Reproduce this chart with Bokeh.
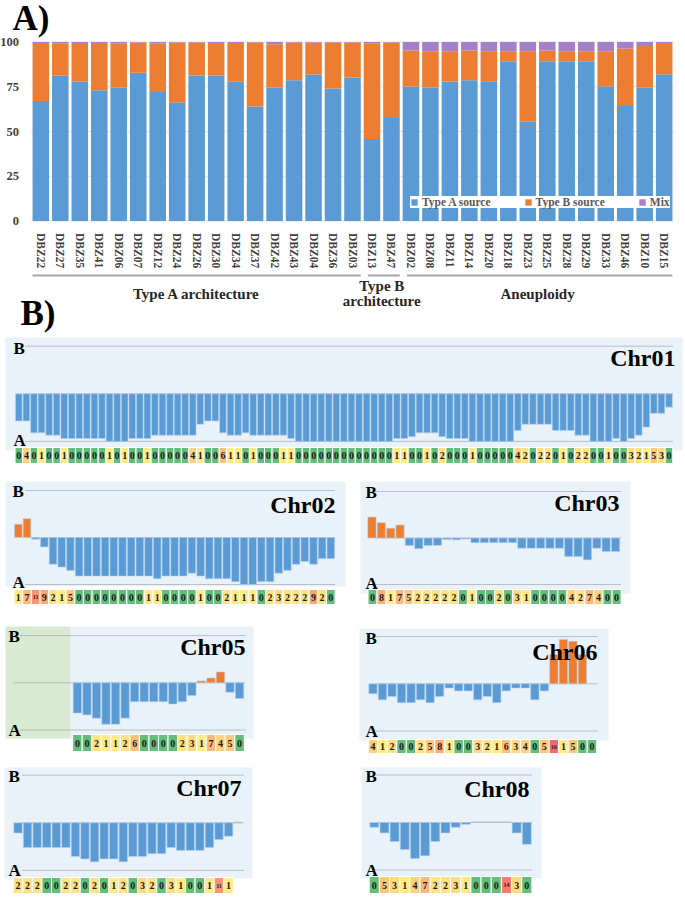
import math
from bokeh.plotting import figure
from bokeh.models import Range1d, FixedTicker, ColumnDataSource
from bokeh.layouts import column, row
from bokeh.embed import file_html
from bokeh.resources import INLINE
from bokeh.core.properties import value

SERIF = "Liberation Serif"
BLUE = "#5B9BD5"
ORANGE = "#ED7D31"
PURPLE = "#A67FCB"
BG = "#E9F1F9"
GREEN_BG = "#D9EAD3"

# ---------------- Panel A data ----------------
samples = ["DBZ22", "DBZ27", "DBZ35", "DBZ41", "DBZ06", "DBZ07", "DBZ12", "DBZ24", "DBZ26",
           "DBZ30", "DBZ34", "DBZ37", "DBZ42", "DBZ43", "DBZ04", "DBZ36", "DBZ03",
           "DBZ13", "DBZ47",
           "DBZ02", "DBZ08", "DBZ11", "DBZ14", "DBZ20", "DBZ18", "DBZ23", "DBZ25", "DBZ28",
           "DBZ29", "DBZ33", "DBZ46", "DBZ10", "DBZ15"]
group_names = ["Type A architecture", "Type B\narchitecture", "Aneuploidy"]
group_sizes = [17, 2, 14]
type_a_source = [67.0, 81.3, 78.0, 73.0, 74.5, 82.8, 72.0, 66.4, 81.3, 81.3, 77.8, 64.0, 74.6,
                 78.7, 81.9, 74.0, 80.2,
                 45.8, 57.6,
                 75.1, 74.6, 78.0, 78.7, 78.1, 89.2, 55.5, 89.2, 89.2, 89.2, 75.3, 64.3, 74.4, 82.0]
type_b_source = [32.5, 18.0, 21.5, 26.5, 24.5, 16.9, 27.0, 33.3, 18.4, 18.2, 21.7, 35.7, 24.2,
                 21.0, 17.8, 25.7, 19.5,
                 53.5, 42.1,
                 20.2, 20.2, 16.8, 16.6, 16.7, 5.6, 39.3, 6.1, 5.6, 5.6, 19.5, 32.0, 23.4, 17.4]
mix_source = [0.5, 0.7, 0.5, 0.5, 1.0, 0.3, 1.0, 0.3, 0.3, 0.5, 0.5, 0.3, 1.2,
              0.3, 0.3, 0.3, 0.3,
              0.7, 0.3,
              4.7, 5.2, 5.2, 4.7, 5.2, 5.2, 5.2, 4.7, 5.2, 5.2, 5.2, 3.7, 2.2, 0.6]
legend_labels = ["Type A source", "Type B source", "Mix"]
y_ticks = [0, 25, 50, 75, 100]

# ---------------- Panel B data ----------------
chr01_vals = [-0.57, -0.57, -0.82, -0.82, -0.87, -0.87, -0.94, -0.94, -0.94, -0.94, -0.94, -0.94,
              -1.0, -1.0, -1.0, -0.94, -0.94, -0.94, -0.87, -0.87, -0.87, -0.87, -0.87, -0.87,
              -0.64, -0.57, -0.57, -0.82, -0.87, -0.87, -0.82, -0.87, -0.87, -0.87, -0.87, -0.87,
              -0.94, -1.0, -1.0, -1.0, -1.0, -1.0, -1.0,
              -1.0, -1.0, -1.0, -1.0, -1.0, -1.0, -1.0, -0.94, -0.94, -0.90, -0.82, -0.82, -0.82,
              -0.90, -0.94, -0.94, -0.94, -1.0, -1.0, -1.0, -1.0, -1.0, -1.0, -0.77, -0.64, -0.64,
              -0.64, -0.64, -0.77, -0.77, -0.77, -0.87, -0.87, -1.0, -1.0, -1.0, -0.94, -1.0, -0.94,
              -0.87, -0.70, -0.41, -0.41, -0.28]
chr01_counts = [0, 4, 0, 1, 0, 0, 1, 0, 0, 0, 0, 0, 1, 0, 1, 0, 0, 1, 0, 0, 0, 0, 0, 4, 1, 0, 0,
                6, 1, 1, 0, 1, 0, 0, 0, 1, 1, 0, 0, 0, 0, 0, 0,
                0, 0, 0, 0, 0, 0, 0, 1, 1, 0, 0, 1, 0, 2, 0, 0, 0, 1, 0, 0, 0, 0, 0, 4, 2, 0, 2,
                2, 0, 1, 0, 2, 2, 0, 0, 1, 0, 0, 3, 2, 1, 5, 3, 0]
chr02_vals = [0.28, 0.40, -0.035, -0.20, -0.57, -0.63, -0.70, -0.82, -0.82, -0.82, -0.82, -0.82,
              -0.82, -0.82, -0.82, -0.82, -0.88, -0.82, -0.82, -0.82, -0.76, -0.82, -0.88, -0.88,
              -0.88, -0.94, -1.0, -1.0, -0.94, -0.94, -0.76, -0.70, -0.57, -0.51, -0.57, -0.45,
              -0.45]
chr02_counts = [1, 7, 11, 9, 2, 1, 5, 0, 0, 0, 0, 0, 0, 0, 0, 1, 1, 0, 0, 0, 0, 1, 0, 0, 2, 1,
                1, 1, 0, 2, 3, 2, 2, 2, 9, 2, 0]
chr03_vals = [0.45, 0.33, 0.21, 0.28, -0.16, -0.23, -0.16, -0.16, -0.03, -0.04, -0.02, -0.10,
              -0.10, -0.10, -0.10, -0.10, -0.22, -0.22, -0.22, -0.22, -0.22, -0.40, -0.40, -0.47,
              -0.22, -0.29, -0.29]
chr03_counts = [0, 8, 1, 7, 5, 2, 2, 2, 2, 2, 0, 1, 0, 0, 2, 0, 3, 1, 0, 0, 0, 0, 4, 2, 7, 4,
                0, 0]
chr05_vals = [-0.64, -0.68, -0.75, -0.88, -0.88, -0.75, -0.40, -0.40, -0.40, -0.40, -0.45, -0.40,
              -0.27, 0.04, 0.10, 0.23, -0.20, -0.33]
chr05_counts = [0, 0, 2, 1, 1, 2, 6, 0, 0, 0, 0, 2, 3, 1, 7, 4, 5, 0]
chr06_vals = [-0.21, -0.34, -0.27, -0.40, -0.40, -0.34, -0.40, -0.27, -0.09, -0.15, -0.15, -0.34,
              -0.27, -0.40, -0.15, -0.09, -0.09, -0.34, -0.15, 0.62, 0.94, 0.90, 0.62]
chr06_counts = [4, 1, 2, 0, 0, 2, 5, 8, 1, 0, 0, 3, 2, 1, 6, 3, 4, 0, 5, 16, 1, 5, 0, 0]
chr07_vals = [-0.215, -0.52, -0.52, -0.52, -0.52, -0.52, -0.71, -0.76, -0.82, -0.76, -0.76, -0.82,
              -0.71, -0.71, -0.65, -0.65, -0.52, -0.58, -0.58, -0.58, -0.52, -0.35, -0.28, 0.015]
chr07_counts = [2, 2, 2, 0, 0, 2, 2, 0, 2, 0, 1, 2, 0, 3, 2, 0, 3, 1, 0, 0, 1, 11, 1]
chr08_vals = [-0.10, -0.22, -0.40, -0.57, -0.76, -0.70, -0.40, -0.22, -0.10, -0.04, 0.015, 0.015,
              0.015, 0.015, -0.22, -0.46]
chr08_counts = [0, 5, 3, 1, 4, 7, 2, 2, 3, 1, 0, 0, 0, 14, 3, 0]

# ================= Panel A =================
A_W, A_H = 685, 336
A_PX = 1.79                       # pixels per percent
A_L, A_R = 30.6, 673.4            # band extent of the bars
A_PITCH = (A_R - A_L) / len(samples)


def ya(py):
    return 100 - (py - 41.5) / A_PX


def xa(px):
    return (px - A_L) / A_PITCH


pa = figure(width=A_W, height=A_H, output_backend="svg", toolbar_location=None,
            x_range=Range1d(xa(0), xa(A_W)), y_range=Range1d(ya(A_H), ya(0)),
            min_border=0, min_border_left=0, min_border_right=0, min_border_top=0,
            min_border_bottom=0, outline_line_color=None)
for g in pa.grid:
    g.visible = False

xs = [i + 0.5 for i in range(len(samples))]
n_s = len(samples)
pa.segment(x0=[0] * len(y_ticks), x1=[n_s] * len(y_ticks), y0=y_ticks, y1=y_ticks,
           line_color="#E3E3E3", line_width=1)

src_a = ColumnDataSource(dict(x=xs, a=type_a_source, b=type_b_source, m=mix_source))
pa.vbar_stack(["a", "b", "m"], x="x", width=0.85, color=[BLUE, ORANGE, PURPLE],
              line_color=None, source=src_a, legend_label=legend_labels)

pa.yaxis.fixed_location = 0
pa.yaxis.ticker = FixedTicker(ticks=y_ticks)
pa.yaxis.axis_line_color = None
pa.yaxis.major_tick_line_color = None
pa.yaxis.minor_tick_line_color = None
pa.yaxis.major_label_standoff = 6
pa.yaxis.major_label_text_font = SERIF
pa.yaxis.major_label_text_font_style = "bold"
pa.yaxis.major_label_text_font_size = "12.5px"
pa.yaxis.major_label_text_color = "#404040"

pa.xaxis.fixed_location = 0
pa.xaxis.ticker = FixedTicker(ticks=xs)
pa.xaxis.major_label_overrides = {x: s for x, s in zip(xs, samples)}
pa.xaxis.axis_line_color = None
pa.xaxis.major_tick_line_color = None
pa.xaxis.minor_tick_line_color = None
pa.xaxis.major_label_orientation = -math.pi / 2
pa.xaxis.major_label_standoff = 6
pa.xaxis.major_label_text_font = SERIF
pa.xaxis.major_label_text_font_style = "bold"
pa.xaxis.major_label_text_font_size = "11.5px"
pa.xaxis.major_label_text_color = "#404040"

# group underlines and labels
starts, s = [], 0
for n in group_sizes:
    starts.append(s)
    s += n
gx0 = [st + (0.075 if i == 0 else 0.3) for i, st in enumerate(starts)]
gx1 = [st + n - 0.075 for st, n in zip(starts, group_sizes)]
pa.segment(x0=gx0, x1=gx1, y0=[ya(275)] * 3, y1=[ya(275)] * 3, line_color="#A6A6A6",
           line_width=2)
tx, ty, tt = [], [], []
for st, n, name in zip(starts, group_sizes, group_names):
    parts = name.split("\n")
    c = st + n / 2
    if len(parts) == 1:
        tx.append(c); ty.append(ya(293)); tt.append(parts[0])
    else:
        tx += [c, c]; ty += [ya(285), ya(300)]; tt += parts
pa.text(x=tx, y=ty, text=tt, text_align="center", text_baseline="middle",
        text_font=value(SERIF), text_font_style="bold", text_font_size="15px",
        text_color="#262626")

pa.text(x=[xa(12), xa(20)], y=[ya(18), ya(313)], text=["A)", "B)"], text_align="left",
        text_baseline="middle", text_font=value(SERIF), text_font_style="bold",
        text_font_size="35px", text_color="black")

lg = pa.legend[0]
lg.orientation = "horizontal"
lg.location = (410, 128)
lg.label_text_font = SERIF
lg.label_text_font_style = "bold"
lg.label_text_font_size = "11.5px"
lg.label_text_color = "#595959"
lg.glyph_width = 8
lg.glyph_height = 8
lg.label_height = 10
lg.label_standoff = 4
lg.spacing = 33
lg.padding = 3
lg.margin = 0
lg.border_line_color = None
lg.background_fill_color = "white"
lg.background_fill_alpha = 1.0


# ================= Panel B =================
def cell_color(n):
    if n == 0:
        return "#63BE7B"
    t = min((n - 1) / 15.0, 1.0)
    c0, c1 = (255, 235, 132), (248, 105, 107)
    r, g, b = [round(a + (bb - a) * t) for a, bb in zip(c0, c1)]
    return "#%02X%02X%02X" % (r, g, b)


BW = 0.88


def chr_panel(name, vals, counts, fig, bar0, pitch, zero, unit, bgs, line_x, zero_x,
              letter_x, b_mid, a_mid, title_x, title_mid, cell_y, cell_x=None):
    fl, ft, fw, fh = fig
    d0 = bar0 - (1 - BW) / 2 * pitch

    def X(px):
        return (px - d0) / pitch

    def Y(py):
        return (zero - py) / unit

    p = figure(width=fw, height=fh, output_backend="svg", toolbar_location=None,
               x_range=Range1d(X(fl), X(fl + fw)), y_range=Range1d(Y(ft + fh), Y(ft)),
               x_axis_location=None, y_axis_location=None, min_border=0,
               min_border_left=0, min_border_right=0, min_border_top=0, min_border_bottom=0,
               outline_line_color=None, background_fill_color="white",
               border_fill_color="white")
    for g in p.grid:
        g.visible = False
    for (l, r, t, b, c) in bgs:
        p.quad(left=[X(max(l, fl))], right=[X(min(r, fl + fw))], top=[Y(t)], bottom=[Y(b)],
               fill_color=c, line_color=None)
    p.segment(x0=[X(line_x[0]), X(zero_x[0]), X(line_x[0])],
              x1=[X(line_x[1]), X(zero_x[1]), X(line_x[1])],
              y0=[1, 0, -1], y1=[1, 0, -1], line_color="#8C8C8C", line_dash="1 1",
              line_width=1)
    src = ColumnDataSource(dict(
        x=[i + 0.5 for i in range(len(vals))],
        top=[max(v, 0) for v in vals],
        bottom=[min(v, 0) for v in vals],
        color=[ORANGE if v > 0 else BLUE for v in vals]))
    p.vbar(x="x", top="top", bottom="bottom", width=BW, fill_color="color",
           line_color="#B5D1EC", line_width=0.6, source=src)
    # cells
    if cell_x is None:
        c0, cp = d0, pitch
    else:
        c0, cp = cell_x
    cw = cp / pitch
    ct, cb = cell_y
    cs = ColumnDataSource(dict(
        x=[X(c0) + (i + 0.5) * cw for i in range(len(counts))],
        y=[Y((ct + cb) / 2)] * len(counts),
        txt=[str(n) for n in counts],
        fc=[cell_color(n) for n in counts],
        fs=["10px" if n < 10 else "6px" for n in counts]))
    p.rect(x="x", y="y", width=cw, height=(cb - ct) / unit, fill_color="fc",
           line_color="white", line_width=1, source=cs)
    p.text(x="x", y="y", text="txt", text_font_size="fs", text_align="center",
           text_baseline="middle", text_font=value(SERIF), text_font_style="bold",
           text_color="#1A1A1A", source=cs)
    # letters and title
    p.text(x=[X(letter_x)] * 2, y=[Y(b_mid), Y(a_mid)], text=["B", "A"], text_align="left",
           text_baseline="middle", text_font=value(SERIF), text_font_style="bold",
           text_font_size="17px", text_color="black")
    p.text(x=[X(title_x)], y=[Y(title_mid)], text=[name], text_align="right",
           text_baseline="middle", text_font=value(SERIF), text_font_style="bold",
           text_font_size="24px", text_color="black")
    return p


c01 = chr_panel("Chr01", chr01_vals, chr01_counts, (0, 336, 685, 134), 15, 7.56, 393.3, 47.6,
                [(5, 682, 337, 450, BG)], (25, 673), (25, 673), 13, 348, 439.5, 675, 357,
                (447, 463))
c02 = chr_panel("Chr02", chr02_vals, chr02_counts, (0, 470, 352, 144), 14, 8.68, 537, 47,
                [(5, 345, 481, 586, BG)], (25, 335), (25, 335), 12, 490.5, 582, 335, 504.5,
                (589, 604))
c03 = chr_panel("Chr03", chr03_vals, chr03_counts, (352, 470, 333, 144), 367.3, 9.37, 537.5,
                46.5, [(360, 630, 481, 593, BG)], (375, 620), (375, 620), 365, 491.5, 583,
                619, 502, (589, 604), (367.5, 9.04))
c05 = chr_panel("Chr05", chr05_vals, chr05_counts, (0, 614, 352, 144), 72.7, 9.54, 682.3, 47.2,
                [(5, 70, 626, 738, GREEN_BG), (70, 253, 626, 738, BG)], (20, 245), (13, 245),
                8, 636, 730, 245, 646, (734, 751))
c06 = chr_panel("Chr06", chr06_vals, chr06_counts, (352, 614, 333, 144), 368.3, 9.52, 683.3,
                47.2, [(359, 608, 628, 740, BG)], (376, 598), (376, 598), 365, 637.5, 731,
                597, 651, (739, 753))
c07 = chr_panel("Chr07", chr07_vals, chr07_counts, (0, 758, 352, 140), 13.3, 9.57, 822.3, 47.6,
                [(4, 252, 767, 878, BG)], (22, 243), (22, 243), 8, 775.5, 869.5, 241, 787,
                (877, 893))
c08 = chr_panel("Chr08", chr08_vals, chr08_counts, (352, 758, 333, 140), 369.3, 10.17, 822,
                47.5, [(361, 541, 767, 878, BG)], (376, 532), (376, 532), 365, 776, 869.5, 529,
                788, (876, 893))

layout = column(pa, c01, row(c02, c03), row(c05, c06), row(c07, c08))
open("out.html", "w").write(file_html(layout, INLINE))
